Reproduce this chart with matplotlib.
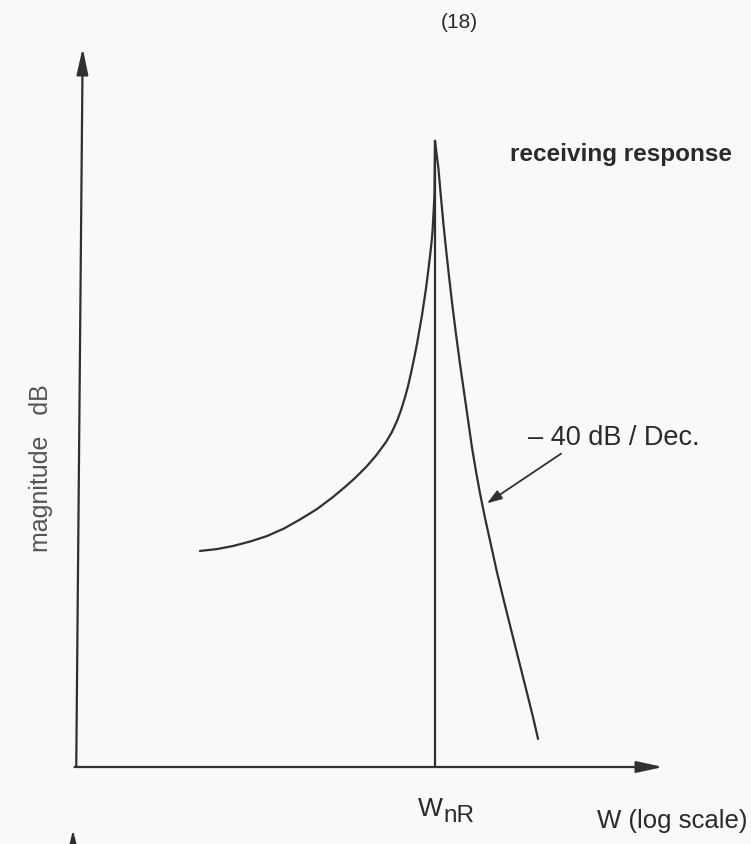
import matplotlib
matplotlib.use("Agg")
import matplotlib.pyplot as plt
import numpy as np

plt.rcParams['font.family'] = ['Liberation Sans', 'DejaVu Sans']

# receiving response: frequency in decades relative to W_nR, magnitude in dB
dec_low = [-1.343, -1.246, -1.154, -1.057, -0.960, -0.863, -0.771, -0.674, -0.583,
           -0.514, -0.457, -0.394, -0.337, -0.280, -0.246, -0.217, -0.194, -0.171,
           -0.154, -0.137, -0.120, -0.103, -0.086, -0.074, -0.063, -0.051, -0.040,
           -0.029, -0.020, -0.014, -0.009, -0.003, 0.0]
db_low = [12.62, 12.73, 12.91, 13.17, 13.49, 13.93, 14.46, 15.07, 15.77,
          16.36, 16.88, 17.52, 18.19, 18.98, 19.57, 20.21, 20.85, 21.61,
          22.25, 23.01, 23.83, 24.71, 25.70, 26.40, 27.16, 27.98, 28.86,
          29.79, 30.61, 31.31, 32.24, 33.41, 36.57]
dec_high = [0.0, 0.020, 0.034, 0.049, 0.063, 0.080, 0.097, 0.120, 0.143, 0.166,
            0.189, 0.211, 0.234, 0.257, 0.286, 0.320, 0.354, 0.394, 0.434,
            0.480, 0.526, 0.560, 0.589]
db_high = [36.57, 34.93, 33.29, 31.66, 30.26, 28.68, 27.16, 25.29, 23.54, 21.90,
           20.27, 18.69, 17.29, 16.00, 14.54, 12.97, 11.39, 9.70, 8.06,
           6.19, 4.32, 2.92, 1.64]
w_nr = 1.0
ink = '#303030'
txt = '#2a2a2a'

W, H = 751, 845
fig = plt.figure(figsize=(W / 100, H / 100), dpi=100, facecolor='#f9f9f7')
# plot box: origin at (78, 768) px, top of y arrow at 49, tip of x arrow at 663
ax = fig.add_axes([78 / W, (H - 768) / H, (663 - 78) / W, (768 - 49) / H])
ax.set_facecolor('none')
ax.set_xscale('log')
ax.set_xlim(10 ** -2.04, 10 ** 1.303)
ax.set_ylim(0, 42)
for s in ax.spines.values():
    s.set_visible(False)
ax.set_xticks([])
ax.set_yticks([])
ax.minorticks_off()

# axes drawn as arrows
arrow = dict(arrowstyle='-|>,head_length=1.6,head_width=0.35', color=ink, lw=1.6,
             shrinkA=0, shrinkB=0)
ax.annotate('', xy=(0.008, 1), xytext=(-0.003, 0), xycoords='axes fraction',
            arrowprops=arrow)
ax.annotate('', xy=(1, 0), xytext=(-0.006, 0), xycoords='axes fraction',
            arrowprops=arrow)

ax.plot(w_nr * 10 ** np.array(dec_low), db_low, color=ink, lw=1.6,
        solid_joinstyle='round', solid_capstyle='round')
ax.plot(w_nr * 10 ** np.array(dec_high), db_high, color=ink, lw=1.6,
        solid_joinstyle='round', solid_capstyle='round')
ax.plot([w_nr, w_nr], [0, db_low[-1]], color=ink, lw=1.6)

# -40 dB/Dec. pointer
ax.annotate('', xy=(1.98, 15.4), xytext=(5.25, 18.3),
            arrowprops=dict(arrowstyle='-|>,head_length=0.9,head_width=0.3',
                            color=ink, lw=1.3, shrinkA=0, shrinkB=0))

fig.text(528 / W, 1 - 438 / H, '– 40 dB / Dec.', fontsize=19.5, color=txt,
         va='center', ha='left')
fig.text(510 / W, 1 - 155 / H, 'receiving response', fontsize=17.5, color=txt,
         fontweight='bold', va='center', ha='left')
fig.text(459 / W, 1 - 22 / H, '(18)', fontsize=15, color=txt,
         va='center', ha='center')
fig.text(41 / W, 1 - 468 / H, 'magnitude   dB', fontsize=18, color='#555555',
         rotation=90, va='center', ha='center')
fig.text(418 / W, 1 - 809 / H, 'W', fontsize=19, color=txt,
         va='center', ha='left')
fig.text(443 / W, 1 - 816 / H, 'nR', fontsize=17.5, color=txt,
         va='center', ha='left')
fig.text(597 / W, 1 - 821 / H, 'W (log scale)', fontsize=18.5, color=txt,
         va='center', ha='left')

# tip of the next diagram's axis at the bottom edge
ax.annotate('', xy=(73, 14), xytext=(73, 0), xycoords='figure pixels',
            arrowprops=dict(arrowstyle='-|>,head_length=1.2,head_width=0.3',
                            color=ink, lw=1.4, shrinkA=0, shrinkB=0))

fig.savefig('out.png', dpi=100, facecolor=fig.get_facecolor())
